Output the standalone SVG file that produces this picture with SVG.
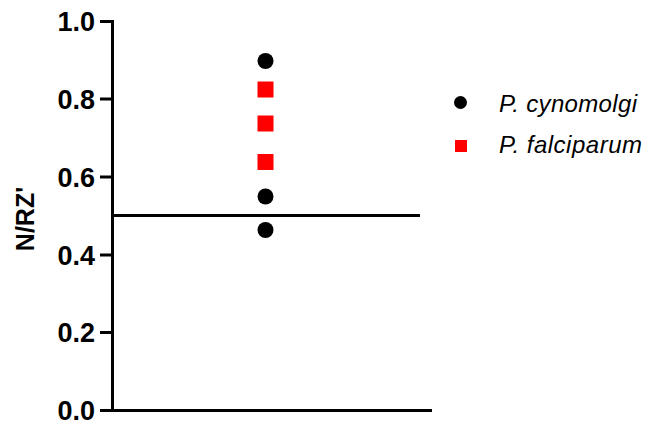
<svg xmlns="http://www.w3.org/2000/svg" width="646" height="426" viewBox="0 0 646 426">
<style>
.ax{stroke:#000;stroke-width:3;fill:none}
.tl{font-family:"Liberation Sans",Arial,sans-serif;font-weight:bold;font-size:27px;text-anchor:end}
.lg{font-family:"Liberation Sans",Arial,sans-serif;font-style:italic;font-size:24px}
.c{fill:#000}
.s{fill:#ff0000}
</style>
<rect width="646" height="426" fill="#fff"/>
<g id="axes">
<path class="ax" d="M112.5,20 V410.5 H432"/>
<path class="ax" d="M100,21.5 H112 M100,99 H112 M100,177 H112 M100,255 H112 M100,332.5 H112 M100,410.5 H112"/>
<text class="tl" x="95" y="31">1.0</text>
<text class="tl" x="95" y="109">0.8</text>
<text class="tl" x="95" y="187">0.6</text>
<text class="tl" x="95" y="265">0.4</text>
<text class="tl" x="95" y="342">0.2</text>
<text class="tl" x="95" y="420">0.0</text>
<text font-family="Liberation Sans,Arial,sans-serif" font-weight="bold" font-size="25" text-anchor="middle" transform="translate(34,219) rotate(-90)">N/RZ'</text>
</g>
<g id="threshold"><path class="ax" d="M113,215.5 H420"/></g>
<g id="data">
<circle class="c" cx="265.5" cy="61" r="8"/>
<circle class="c" cx="265.5" cy="196.5" r="8"/>
<circle class="c" cx="265.5" cy="230" r="8"/>
<rect class="s" x="257.5" y="81.5" width="16" height="16"/>
<rect class="s" x="257.5" y="115.5" width="16" height="16"/>
<rect class="s" x="257.5" y="154" width="16" height="16"/>
</g>
<g id="legend">
<circle class="c" cx="460.5" cy="102.5" r="6.5"/>
<rect class="s" x="455" y="140" width="12" height="12"/>
<text class="lg" x="499" y="112" textLength="138" lengthAdjust="spacing">P. cynomolgi</text>
<text class="lg" x="499" y="152.5" textLength="143" lengthAdjust="spacing">P. falciparum</text>
</g>
</svg>
